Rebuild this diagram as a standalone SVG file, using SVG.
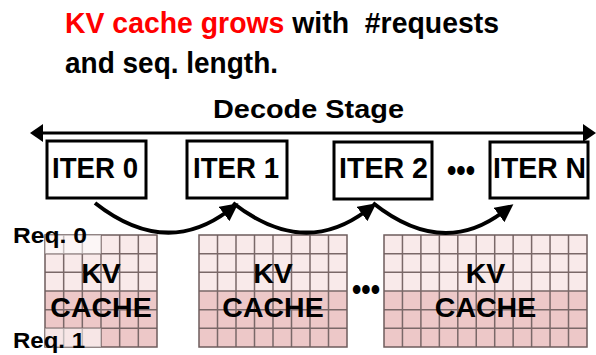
<svg xmlns="http://www.w3.org/2000/svg" width="596" height="355" viewBox="0 0 596 355">
  <style>
    .t { font-family: "Liberation Sans", Arial, sans-serif; font-weight: bold; fill: #000; }
    .box { fill: #fff; stroke: #000; stroke-width: 3; }
    .top { fill: #f9eaea; }
    .bot { fill: #edc8c8; }
    .lines { fill: none; stroke: #7a6868; stroke-width: 1.5; }
    .frame { fill: none; stroke: #6e5c5c; stroke-width: 1.5; }
    .arc { fill: none; stroke: #000; stroke-width: 4; marker-end: url(#head); }
    .veil { fill: #fff; opacity: 0.55; }
  </style>
  <defs>
    <marker id="head" viewBox="0 0 18 18" refX="5" refY="9" markerWidth="18" markerHeight="18" markerUnits="userSpaceOnUse" orient="auto">
      <path d="M0,0 L18,9 L0,18 z" fill="#000"/>
    </marker>
  </defs>

  <!-- heading -->
  <g id="title">
    <text class="t" x="65" y="33" font-size="30" textLength="434" lengthAdjust="spacingAndGlyphs" xml:space="preserve"><tspan fill="#ff0000">KV cache grows</tspan> with  #requests</text>
    <text class="t" x="65" y="73" font-size="30" textLength="213" lengthAdjust="spacingAndGlyphs">and seq. length.</text>
  </g>

  <!-- decode stage span -->
  <g id="decode-stage">
    <text class="t" x="213" y="118" font-size="26" textLength="191" lengthAdjust="spacingAndGlyphs">Decode Stage</text>
    <line x1="42" y1="133" x2="584" y2="133" stroke="#000" stroke-width="3"/>
    <path d="M30,133 L43,124 L43,142 z" fill="#000"/>
    <path d="M596,133 L583,124 L583,142 z" fill="#000"/>
  </g>

  <!-- iterations -->
  <g id="iter0">
    <rect class="box" x="47" y="141" width="99" height="57"/>
    <text class="t" x="52" y="178" font-size="30" textLength="86" lengthAdjust="spacingAndGlyphs">ITER 0</text>
  </g>
  <g id="iter1">
    <rect class="box" x="187" y="141" width="100" height="57"/>
    <text class="t" x="193" y="178" font-size="30" textLength="86" lengthAdjust="spacingAndGlyphs">ITER 1</text>
  </g>
  <g id="iter2">
    <rect class="box" x="334" y="142" width="98" height="57"/>
    <text class="t" x="339" y="178" font-size="30" textLength="89" lengthAdjust="spacingAndGlyphs">ITER 2</text>
  </g>
  <g id="iter-dots">
    <text class="t" x="461" y="181" font-size="32" text-anchor="middle" textLength="28" lengthAdjust="spacingAndGlyphs">•••</text>
  </g>
  <g id="iterN">
    <rect class="box" x="490" y="142" width="98" height="56"/>
    <text class="t" x="493" y="178" font-size="30" textLength="93" lengthAdjust="spacingAndGlyphs">ITER N</text>
  </g>

  <!-- KV cache blocks -->
  <g id="cache0">
    <rect class="top" x="45" y="235" width="112" height="56"/>
    <rect class="bot" x="45" y="291" width="112" height="56"/>
    <path class="lines" d="M63.67,235V347M82.33,235V347M101,235V347M119.67,235V347M138.33,235V347M45,253.67H157M45,272.33H157M45,291H157M45,309.67H157M45,328.33H157"/>
    <rect class="frame" x="45" y="235" width="112" height="112"/>
  </g>
  <g id="cache1">
    <rect class="top" x="199" y="235" width="148" height="56"/>
    <rect class="bot" x="199" y="291" width="148" height="56"/>
    <path class="lines" d="M217.5,235V347M236,235V347M254.5,235V347M273,235V347M291.5,235V347M310,235V347M328.5,235V347M199,253.67H347M199,272.33H347M199,291H347M199,309.67H347M199,328.33H347"/>
    <rect class="frame" x="199" y="235" width="148" height="112"/>
    <text class="t" x="273" y="283" font-size="28.5" text-anchor="middle">KV</text>
    <text class="t" x="273" y="317" font-size="28.5" text-anchor="middle">CACHE</text>
  </g>
  <g id="cache-dots">
    <text class="t" x="366" y="300" font-size="32" text-anchor="middle" textLength="28" lengthAdjust="spacingAndGlyphs">•••</text>
  </g>
  <g id="cache2">
    <rect class="top" x="384" y="235" width="203" height="56"/>
    <rect class="bot" x="384" y="291" width="203" height="56"/>
    <path class="lines" d="M402.45,235V347M420.9,235V347M439.35,235V347M457.8,235V347M476.25,235V347M494.7,235V347M513.15,235V347M531.6,235V347M550.05,235V347M568.5,235V347M384,253.67H587M384,272.33H587M384,291H587M384,309.67H587M384,328.33H587"/>
    <rect class="frame" x="384" y="235" width="203" height="112"/>
    <text class="t" x="485.5" y="283" font-size="28.5" text-anchor="middle">KV</text>
    <text class="t" x="485.5" y="317" font-size="28.5" text-anchor="middle">CACHE</text>
  </g>

  <!-- request labels over the first block -->
  <g id="req0">
    <rect class="veil" x="45" y="235" width="56" height="18.67"/>
    <text class="t" x="13" y="243" font-size="21.5" textLength="74" lengthAdjust="spacingAndGlyphs">Req. 0</text>
  </g>
  <g id="req1">
    <rect class="veil" x="45" y="328.33" width="56" height="18.67"/>
    <text class="t" x="13" y="348" font-size="21.5" textLength="72" lengthAdjust="spacingAndGlyphs">Req. 1</text>
  </g>
  <g id="cache0-label">
    <text class="t" x="101" y="283" font-size="28.5" text-anchor="middle">KV</text>
    <text class="t" x="101" y="317" font-size="28.5" text-anchor="middle">CACHE</text>
  </g>

  <!-- iteration-to-iteration connectors -->
  <g id="connectors">
    <path class="arc" d="M95,203 Q165,258 228,211"/>
    <path class="arc" d="M233,203 Q303,258 366,211"/>
    <path class="arc" d="M373,203 Q442,258 503,212"/>
  </g>
</svg>
